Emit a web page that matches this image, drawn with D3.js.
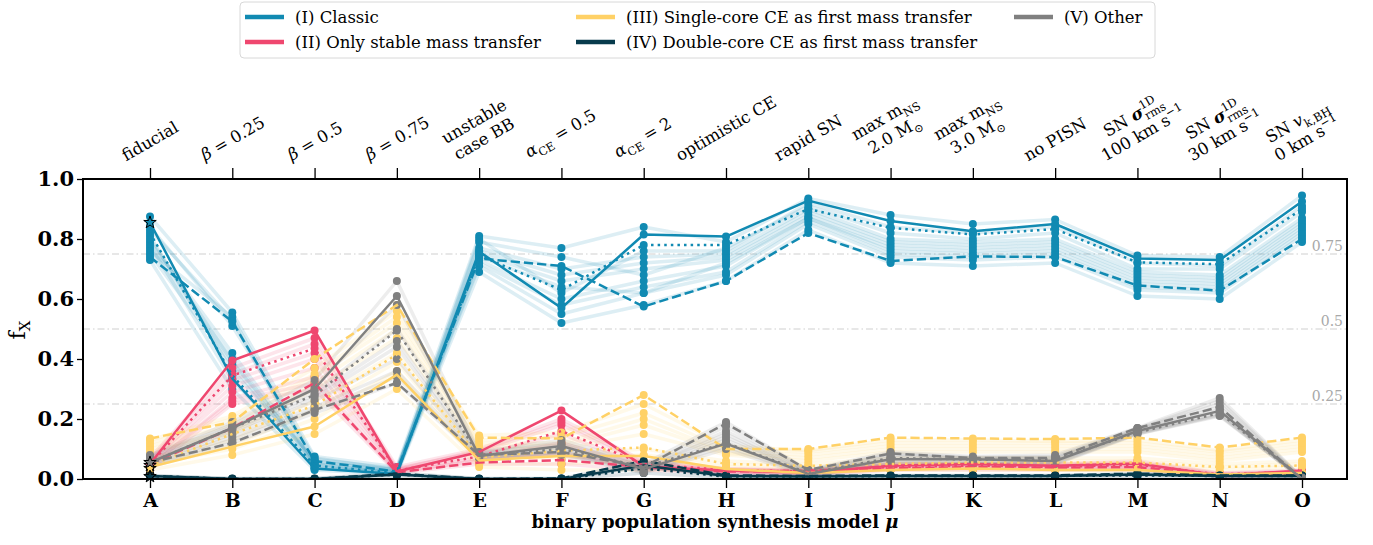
<!DOCTYPE html>
<html><head><meta charset="utf-8">
<script src="https://cdn.jsdelivr.net/npm/d3@7"></script>
<style>body{margin:0;background:#fff}svg{display:block}</style>
</head><body>
<svg id="chart" width="1373" height="545"></svg>
<script>
// ---------------- DATA ----------------
const models = ["A","B","C","D","E","F","G","H","I","J","K","L","M","N","O"];

const topLabels = [
  [[["fiducial"]]],
  [[["β","i"],[" = 0.25"]]],
  [[["β","i"],[" = 0.5"]]],
  [[["β","i"],[" = 0.75"]]],
  [[["unstable"]],[["case BB"]]],
  [[["α","i"],["CE","sub"],[" = 0.5"]]],
  [[["α","i"],["CE","sub"],[" = 2"]]],
  [[["optimistic CE"]]],
  [[["rapid SN"]]],
  [[["max m"],["NS","sub"]],[["2.0 M"],["⊙","sub"]]],
  [[["max m"],["NS","sub"]],[["3.0 M"],["⊙","sub"]]],
  [[["no PISN"]]],
  [[["SN "],["σ","bi"],["1D","sup"],["rms","subx"]],[["100 km s"],["−1","sup"]]],
  [[["SN "],["σ","bi"],["1D","sup"],["rms","subx"]],[["30 km s"],["−1","sup"]]],
  [[["SN "],["v","i"],["k,BH","sub"]],[["0 km s"],["−1","sup"]]]
];

const channelNames = ["(I) Classic","(II) Only stable mass transfer","(III) Single-core CE as first mass transfer","(IV) Double-core CE as first mass transfer","(V) Other"];
const channelColors = ["#118ab2","#ef476f","#ffd166","#073b4c","#808080"];

const yTicks = [0,0.2,0.4,0.6,0.8,1.0];
const gridValues = [0.25,0.5,0.75];
const gridLabels = ["0.25","0.5","0.75"];

// (I) Classic
const classicSolid  = [0.855,0.335,0.035,0.017,0.758,0.57,0.815,0.808,0.928,0.86,0.826,0.85,0.735,0.73,0.925];
const classicDotted = [0.82,0.345,0.045,0.02,0.745,0.63,0.78,0.78,0.9,0.837,0.815,0.833,0.722,0.716,0.9];
const classicDashed = [0.74,0.525,0.06,0.025,0.735,0.71,0.575,0.66,0.82,0.727,0.742,0.74,0.645,0.628,0.8];
const classicFaint = [
  [0.73,0.30,0.03,0.015,0.69,0.52,0.58,0.66,0.83,0.72,0.71,0.72,0.61,0.60,0.79],
  [0.75,0.38,0.04,0.02,0.71,0.55,0.62,0.68,0.85,0.74,0.73,0.74,0.63,0.62,0.81],
  [0.77,0.40,0.05,0.025,0.73,0.60,0.66,0.71,0.87,0.76,0.75,0.76,0.65,0.64,0.83],
  [0.79,0.42,0.055,0.03,0.75,0.66,0.70,0.73,0.88,0.78,0.77,0.78,0.67,0.66,0.85],
  [0.81,0.36,0.065,0.035,0.77,0.70,0.74,0.75,0.90,0.80,0.79,0.80,0.69,0.68,0.87],
  [0.84,0.51,0.07,0.03,0.79,0.74,0.68,0.77,0.91,0.82,0.80,0.82,0.70,0.70,0.89],
  [0.875,0.555,0.075,0.04,0.81,0.77,0.84,0.79,0.935,0.88,0.85,0.865,0.745,0.74,0.945],
  [0.78,0.33,0.045,0.02,0.72,0.58,0.64,0.69,0.86,0.75,0.74,0.75,0.64,0.63,0.82],
  [0.80,0.39,0.06,0.03,0.76,0.68,0.72,0.74,0.89,0.79,0.78,0.79,0.68,0.67,0.86],
  [0.83,0.53,0.035,0.025,0.80,0.62,0.76,0.76,0.92,0.84,0.82,0.84,0.72,0.71,0.91],
  [0.76,0.54,0.05,0.02,0.74,0.64,0.62,0.72,0.87,0.77,0.76,0.77,0.66,0.65,0.84]
];
// (II) Only stable mass transfer
const stableSolid  = [0.05,0.395,0.495,0.025,0.09,0.228,0.042,0.028,0.022,0.044,0.05,0.044,0.052,0.012,0.028];
const stableDotted = [0.05,0.345,0.435,0.028,0.075,0.16,0.05,0.03,0.025,0.04,0.045,0.04,0.048,0.015,0.025];
const stableDashed = [0.05,0.17,0.32,0.022,0.055,0.063,0.04,0.025,0.028,0.035,0.04,0.038,0.04,0.012,0.02];
const stableFaint = [
  [0.03,0.25,0.30,0.02,0.05,0.05,0.03,0.02,0.01,0.03,0.03,0.03,0.03,0.008,0.01],
  [0.04,0.27,0.34,0.025,0.06,0.09,0.035,0.022,0.015,0.035,0.035,0.035,0.035,0.01,0.015],
  [0.05,0.29,0.37,0.03,0.07,0.12,0.04,0.025,0.02,0.04,0.04,0.04,0.04,0.012,0.018],
  [0.055,0.31,0.40,0.03,0.08,0.15,0.045,0.03,0.025,0.045,0.045,0.045,0.045,0.015,0.022],
  [0.06,0.33,0.42,0.035,0.09,0.18,0.05,0.032,0.028,0.048,0.05,0.048,0.055,0.018,0.025],
  [0.07,0.37,0.47,0.04,0.10,0.20,0.06,0.035,0.03,0.05,0.052,0.05,0.06,0.02,0.03],
  [0.045,0.26,0.32,0.022,0.065,0.08,0.038,0.024,0.018,0.038,0.038,0.037,0.038,0.011,0.016],
  [0.065,0.35,0.45,0.032,0.095,0.19,0.055,0.033,0.027,0.046,0.048,0.046,0.05,0.017,0.026]
];
// (III) Single-core CE
const singleSolid  = [0.04,0.108,0.175,0.348,0.062,0.077,0.077,0.033,0.02,0.03,0.035,0.03,0.03,0.015,0.02];
const singleDotted = [0.045,0.15,0.245,0.415,0.072,0.094,0.105,0.05,0.044,0.05,0.055,0.055,0.055,0.04,0.045];
const singleDashed = [0.135,0.19,0.40,0.58,0.138,0.135,0.28,0.10,0.10,0.138,0.135,0.133,0.138,0.105,0.138];
const singleFaint = [
  [0.03,0.08,0.15,0.30,0.04,0.03,0.03,0.03,0.02,0.03,0.03,0.03,0.03,0.015,0.02],
  [0.05,0.10,0.20,0.36,0.05,0.05,0.06,0.04,0.03,0.05,0.05,0.05,0.05,0.03,0.04],
  [0.07,0.13,0.26,0.42,0.08,0.08,0.10,0.06,0.05,0.07,0.07,0.07,0.07,0.05,0.06],
  [0.09,0.15,0.30,0.47,0.10,0.10,0.15,0.08,0.06,0.09,0.09,0.09,0.09,0.06,0.09],
  [0.11,0.18,0.34,0.52,0.12,0.12,0.20,0.09,0.08,0.11,0.11,0.11,0.11,0.08,0.11],
  [0.13,0.21,0.37,0.56,0.145,0.155,0.25,0.11,0.095,0.13,0.13,0.125,0.13,0.095,0.13],
  [0.06,0.11,0.23,0.39,0.07,0.07,0.08,0.05,0.04,0.06,0.06,0.06,0.06,0.04,0.05],
  [0.10,0.16,0.32,0.50,0.11,0.11,0.18,0.085,0.07,0.10,0.10,0.10,0.10,0.07,0.10],
  [0.12,0.20,0.35,0.54,0.13,0.14,0.22,0.10,0.09,0.12,0.12,0.12,0.12,0.09,0.12]
];
// (IV) Double-core CE
const doubleSolid  = [0.01,0.0,0.0,0.015,0.0,0.0,0.045,0.01,0.008,0.01,0.01,0.01,0.015,0.01,0.01];
const doubleDotted = [0.01,0.0,0.0,0.015,0.0,0.0,0.035,0.008,0.008,0.01,0.01,0.01,0.012,0.01,0.01];
const doubleDashed = [0.01,0.0,0.0,0.018,0.0,0.002,0.06,0.012,0.01,0.012,0.012,0.012,0.018,0.012,0.012];
const doubleFaint = [
  [0.005,0.0,0.0,0.01,0.0,0.0,0.02,0.005,0.005,0.005,0.005,0.005,0.008,0.005,0.005],
  [0.01,0.001,0.001,0.015,0.001,0.001,0.04,0.01,0.01,0.01,0.01,0.01,0.015,0.01,0.01],
  [0.012,0.002,0.002,0.02,0.002,0.002,0.055,0.012,0.012,0.012,0.012,0.012,0.018,0.012,0.012]
];
// (V) Other
const otherSolid  = [0.055,0.17,0.30,0.61,0.077,0.11,0.033,0.118,0.017,0.066,0.066,0.06,0.16,0.227,0.0];
const otherDotted = [0.055,0.17,0.28,0.495,0.08,0.10,0.04,0.12,0.02,0.07,0.065,0.065,0.155,0.22,0.0];
const otherDashed = [0.055,0.12,0.23,0.32,0.08,0.09,0.04,0.185,0.03,0.085,0.07,0.07,0.17,0.24,0.0];
const otherFaint = [
  [0.04,0.12,0.22,0.32,0.07,0.08,0.02,0.10,0.01,0.05,0.05,0.05,0.15,0.21,0.0],
  [0.05,0.14,0.24,0.36,0.072,0.09,0.025,0.12,0.015,0.06,0.055,0.055,0.152,0.215,0.0],
  [0.055,0.15,0.26,0.40,0.075,0.095,0.03,0.13,0.02,0.065,0.06,0.06,0.155,0.22,0.0],
  [0.06,0.16,0.27,0.44,0.08,0.10,0.035,0.14,0.02,0.07,0.065,0.065,0.16,0.23,0.002],
  [0.07,0.175,0.29,0.50,0.085,0.115,0.04,0.16,0.025,0.08,0.07,0.07,0.165,0.25,0.003],
  [0.08,0.19,0.33,0.66,0.09,0.13,0.05,0.19,0.03,0.09,0.075,0.08,0.17,0.27,0.005],
  [0.065,0.165,0.28,0.46,0.082,0.105,0.038,0.15,0.022,0.075,0.068,0.068,0.162,0.24,0.002],
  [0.045,0.13,0.23,0.34,0.071,0.085,0.022,0.11,0.012,0.055,0.052,0.052,0.151,0.212,0.0],
  [0.075,0.18,0.31,0.58,0.088,0.12,0.045,0.175,0.028,0.085,0.072,0.075,0.168,0.26,0.004]
];
// fiducial stars at model A
const fiducialStars = [0.855,0.045,0.035,0.008,0.055];
const starOrder = [0,1,2,4,3];

// ---------------- CHART ----------------
const channels = [
  {solid:classicSolid,dotted:classicDotted,dashed:classicDashed,faint:classicFaint},
  {solid:stableSolid,dotted:stableDotted,dashed:stableDashed,faint:stableFaint},
  {solid:singleSolid,dotted:singleDotted,dashed:singleDashed,faint:singleFaint},
  {solid:doubleSolid,dotted:doubleDotted,dashed:doubleDashed,faint:doubleFaint},
  {solid:otherSolid,dotted:otherDotted,dashed:otherDashed,faint:otherFaint}
];

const SERIF = "'DejaVu Serif', 'Liberation Serif', serif";
const svg = d3.select("#chart");
const L=83, R=1347, T=179, B=479;
const x = d3.scalePoint().domain(models).range([150,1302]);
const y = d3.scaleLinear().domain([0,1]).range([B,T]);

svg.append("defs").append("clipPath").attr("id","plotclip")
  .append("rect").attr("x",L).attr("y",T).attr("width",R-L).attr("height",B-T);

// grid lines
const grid = svg.append("g");
gridValues.forEach((v,i)=>{
  grid.append("line").attr("x1",L).attr("x2",R).attr("y1",y(v)).attr("y2",y(v))
    .attr("stroke","#cfcfcf").attr("stroke-width",1).attr("stroke-dasharray","7,3,1.5,3");
  grid.append("text").attr("x",R-4).attr("y",y(v)-3).attr("text-anchor","end")
    .attr("font-family",SERIF).attr("font-size",14).attr("fill","#a8a8a8").text(gridLabels[i]);
});

const plot = svg.append("g").attr("clip-path","url(#plotclip)");
const line = d3.line().x((d,i)=>x(models[i])).y(d=>y(d));

// faint lines
channels.forEach((c,ci)=>{
  c.faint.forEach(s=>{
    plot.append("path").datum(s).attr("d",line).attr("fill","none")
      .attr("stroke",channelColors[ci]).attr("stroke-width",3.5).attr("stroke-opacity",0.14)
      .attr("stroke-linejoin","round");
  });
});
// dots
channels.forEach((c,ci)=>{
  const all = c.faint.concat([c.solid,c.dotted,c.dashed]);
  all.forEach(s=>{
    plot.append("g").selectAll("circle").data(s).join("circle")
      .attr("cx",(d,i)=>x(models[i])).attr("cy",d=>y(d)).attr("r",4)
      .attr("fill",channelColors[ci]);
  });
});
// highlighted lines
channels.forEach((c,ci)=>{
  const col = channelColors[ci];
  plot.append("path").datum(c.dashed).attr("d",line).attr("fill","none").attr("stroke",col)
    .attr("stroke-width",2.5).attr("stroke-dasharray","9.25,4");
  plot.append("path").datum(c.dotted).attr("d",line).attr("fill","none").attr("stroke",col)
    .attr("stroke-width",2.5).attr("stroke-dasharray","2.5,4.1");
  plot.append("path").datum(c.solid).attr("d",line).attr("fill","none").attr("stroke",col)
    .attr("stroke-width",2.5).attr("stroke-linejoin","round");
});
// stars
const star = d3.symbol().type(d3.symbolStar).size(48);
starOrder.forEach(ci=>{
  svg.append("path").attr("d",star())
    .attr("transform",`translate(${x("A")},${y(fiducialStars[ci])})`)
    .attr("fill",channelColors[ci]).attr("stroke","#000").attr("stroke-width",1);
});

// frame
svg.append("rect").attr("x",L).attr("y",T).attr("width",R-L).attr("height",B-T)
  .attr("fill","none").attr("stroke","#000").attr("stroke-width",2);

// left axis
const ax = svg.append("g").attr("transform",`translate(${L},0)`)
  .call(d3.axisLeft(y).tickValues(yTicks).tickFormat(d3.format(".1f")).tickSize(6).tickPadding(3));
ax.select(".domain").remove();
ax.selectAll("line").attr("stroke","#000").attr("stroke-width",1.3);
ax.selectAll("text").attr("font-family",SERIF).attr("font-weight","bold").attr("font-size",21).attr("fill","#000");

// bottom axis
const bx = svg.append("g").attr("transform",`translate(0,${B})`)
  .call(d3.axisBottom(x).tickSize(9).tickPadding(6));
bx.select(".domain").remove();
bx.selectAll("line").attr("stroke","#000").attr("stroke-width",1.3);
bx.selectAll("text").attr("font-family",SERIF).attr("font-weight","bold").attr("font-size",19).attr("fill","#000");

// top axis ticks
const tx = svg.append("g").attr("transform",`translate(0,${T})`)
  .call(d3.axisTop(x).tickSize(11).tickFormat(""));
tx.select(".domain").remove();
tx.selectAll("line").attr("stroke","#000").attr("stroke-width",1.3);

// top labels
const labelBottom = 165, lineH = 20, FS = 16.5;
topLabels.forEach((lines,i)=>{
  const outer = svg.append("g");
  const inner = outer.append("g").attr("transform","rotate(-30)");
  const n = lines.length;
  lines.forEach((segs,li)=>{
    const t = inner.append("text").attr("text-anchor","middle").attr("y",(li-(n-1))*lineH)
      .attr("font-family",SERIF).attr("font-size",FS).attr("fill","#000");
    let cur = 0, prevW = 0;
    segs.forEach(([s,st])=>{
      const sp = t.append("tspan").text(s);
      let target = 0;
      if(st==="i") sp.attr("font-style","italic");
      if(st==="bi") sp.attr("font-style","italic").attr("font-weight","bold");
      if(st==="sub"||st==="subx"){ target = 5; sp.attr("font-size",FS*0.7); }
      if(st==="sup"){ target = -7; sp.attr("font-size",FS*0.7); }
      if(target!==cur) sp.attr("dy",target-cur);
      if(st==="subx") sp.attr("dx",-prevW);
      cur = target;
      prevW = sp.node().getComputedTextLength();
    });
  });
  const bb = outer.node().getBBox();
  outer.attr("transform",`translate(${x(models[i])-(bb.x+bb.width/2)},${labelBottom-(bb.y+bb.height)})`);
});

// axis titles
svg.append("text").attr("x",(L+R)/2).attr("y",528).attr("text-anchor","middle")
  .attr("font-family",SERIF).attr("font-weight","bold").attr("font-size",18)
  .text("binary population synthesis model ").append("tspan").attr("font-style","italic").text("μ");
const yl = svg.append("text").attr("transform","translate(25,330) rotate(-90)").attr("text-anchor","middle")
  .attr("font-family",SERIF).attr("font-size",22);
yl.append("tspan").text("f");
yl.append("tspan").attr("font-size",15).attr("dy",5).text("X");

// legend
const lg = svg.append("g");
lg.append("rect").attr("x",240).attr("y",2).attr("width",915).attr("height",56).attr("rx",4)
  .attr("fill","#fff").attr("stroke","#d8d8d8").attr("stroke-width",1);
const legPos = [[245,17],[245,42],[576,17],[576,42],[1014,17]];
channelNames.forEach((name,i)=>{
  const [lx,ly] = legPos[i];
  lg.append("line").attr("x1",lx).attr("x2",lx+39).attr("y1",ly).attr("y2",ly)
    .attr("stroke",channelColors[i]).attr("stroke-width",4.5);
  lg.append("text").attr("x",lx+50).attr("y",ly+6).attr("font-family",SERIF).attr("font-size",16.5)
    .attr("fill","#000").text(name);
});
</script>
</body></html>
